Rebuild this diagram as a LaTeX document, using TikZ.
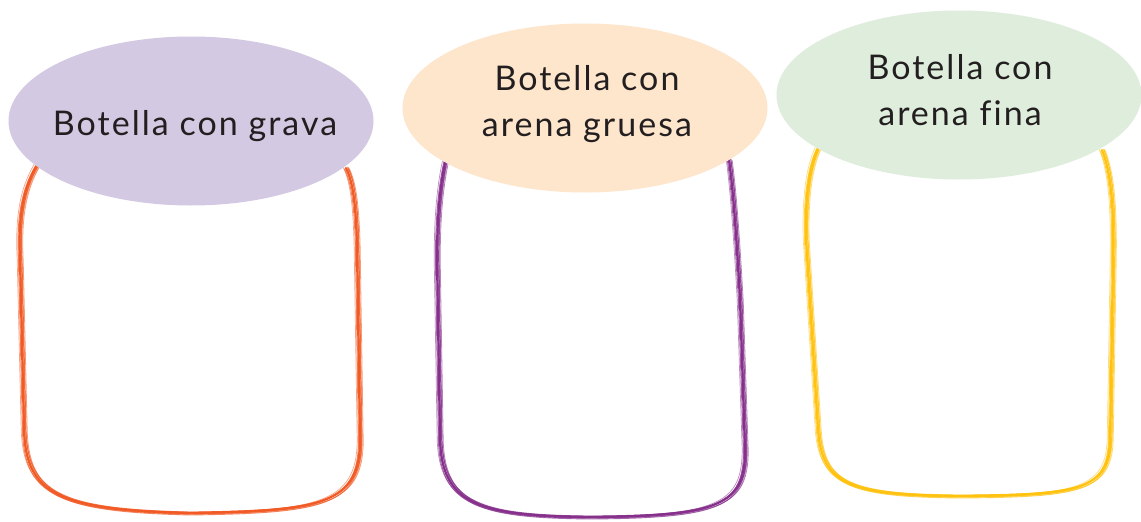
\documentclass[tikz,border=0pt]{standalone}
\usepackage{fontspec}
\setmainfont{Lato}[LetterSpace=6,Ligatures=NoCommon]
\usetikzlibrary{shapes.geometric}
\definecolor{jorange}{HTML}{F15A24}
\definecolor{jpurple}{HTML}{86308C}
\definecolor{jyellow}{HTML}{FFC20E}
\definecolor{elav}{HTML}{D4C9E2}
\definecolor{epeach}{HTML}{FDE6CC}
\definecolor{egreen}{HTML}{DFEEDC}
\definecolor{txt}{HTML}{231F20}
\tikzset{
  label/.style={ellipse, inner sep=0pt, minimum width=365pt, minimum height=169pt},
  labeltext/.style={text=txt, align=center, font=\fontsize{34}{46}\selectfont},
  stroke/.style={line width=#1, line cap=round, line join=round},
}
\newcommand{\sketchjar}[2]{%
  \foreach \dx/\dy/\w/\o in {0/0/2.2/1, 1.8/-0.8/1.2/0.85, -1.5/1.0/1.0/0.75, 3.2/0.6/0.8/0.6, -2.8/-0.6/0.7/0.55, 0.9/2.0/0.9/0.7, 2.2/1.4/0.6/0.5}{
    \draw[#1, stroke=\w pt, opacity=\o, shift={(\dx,\dy)}] #2;
  }%
}
\begin{document}
\begin{tikzpicture}[x=1pt,y=-1pt]
\useasboundingbox (0,0) rectangle (1141,522);
\fill[white] (0,0) rectangle (1141,522);
% jars
\sketchjar{jorange}{(37,165) .. controls (22,190) and (18,220) .. (20,260) -- (24,430) .. controls (26,495) and (60,510) .. (190,513) .. controls (320,511) and (360,505) .. (360,440) -- (357,250) .. controls (356,200) and (352,180) .. (346,168)}
\sketchjar{jpurple}{(446,158) .. controls (440,185) and (437,215) .. (437,260) -- (440,440) .. controls (442,505) and (480,516) .. (590,517) .. controls (720,516) and (745,505) .. (745,450) -- (740,300) .. controls (736,230) and (733,190) .. (729,160)}
\sketchjar{jyellow}{(818,148) .. controls (808,170) and (805,200) .. (806,240) -- (818,430) .. controls (822,485) and (850,495) .. (960,496) .. controls (1080,495) and (1108,490) .. (1110,440) -- (1113,260) .. controls (1114,200) and (1110,170) .. (1102,150)}
% labels
\node[label, fill=elav] (grava) at (191,121) {};
\node[label, fill=epeach] (gruesa) at (585,108) {};
\node[label, fill=egreen] (fina) at (959,95) {};
\node[labeltext] (tgrava) at (195,126) {Botella con grava};
\node[labeltext] (tgruesa) at (587,104) {Botella con\\arena gruesa};
\node[labeltext] (tfina) at (960,90) {Botella con\\arena fina};
\end{tikzpicture}
\end{document}
